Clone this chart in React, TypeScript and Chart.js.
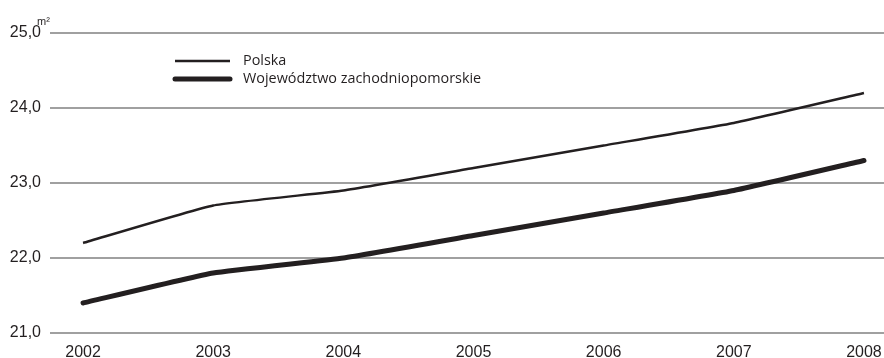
import React, { useEffect, useRef } from "react";
import { Chart, registerables } from "chart.js";

Chart.register(...registerables);

const years = [2002, 2003, 2004, 2005, 2006, 2007, 2008];
const polska = [22.2, 22.7, 22.9, 23.2, 23.5, 23.8, 24.2];
const zachodniopomorskie = [21.4, 21.8, 22.0, 22.3, 22.6, 22.9, 23.3];
const yTicks = [21, 22, 23, 24, 25];
const seriesLabels = ["Polska", "Województwo zachodniopomorskie"];
const unitLabel = "m²";

const INK = "#231f20";

const legendPlugin = {
  id: "customLegend",
  afterDraw(chart: any) {
    const ctx = chart.ctx;
    ctx.save();
    const rows = [
      { y: 61, w: 2.5, label: chart.data.datasets[0].label },
      { y: 79, w: 5, label: chart.data.datasets[1].label },
    ];
    rows.forEach((r) => {
      ctx.strokeStyle = INK;
      ctx.lineWidth = r.w;
      ctx.lineCap = r.w > 3 ? "round" : "butt";
      ctx.beginPath();
      ctx.moveTo(175, r.y);
      ctx.lineTo(230, r.y);
      ctx.stroke();
      ctx.fillStyle = INK;
      ctx.font = "14.4px 'Open Sans'";
      ctx.textBaseline = "middle";
      ctx.textAlign = "left";
      ctx.fillText(r.label, 243, r.y);
    });
    ctx.font = "11px 'Liberation Sans'";
    ctx.textBaseline = "alphabetic";
    ctx.fillStyle = INK;
    ctx.fillText(unitLabel, 37, 25);
    ctx.restore();
  },
};

export default function App() {
  const ref = useRef<HTMLCanvasElement>(null);
  useEffect(() => {
    document.body.style.margin = "0";
    const chart = new Chart(ref.current!, {
      type: "line",
      data: {
        datasets: [
          {
            label: seriesLabels[0],
            data: years.map((y, i) => ({ x: y, y: polska[i] })),
            borderColor: INK,
            borderWidth: 2.5,
            pointRadius: 0,
            tension: 0.12,
          },
          {
            label: seriesLabels[1],
            data: years.map((y, i) => ({ x: y, y: zachodniopomorskie[i] })),
            borderColor: INK,
            borderWidth: 5,
            pointRadius: 0,
            tension: 0.12,
            borderCapStyle: "round",
          },
        ],
      },
      options: {
        animation: false,
        responsive: false,
        layout: { padding: { top: 33, left: 0, right: 0, bottom: 0 } },
        plugins: { legend: { display: false }, tooltip: { enabled: false }, title: { display: false } },
        scales: {
          x: {
            type: "linear",
            min: 2001.746,
            max: 2008.154,
            afterBuildTicks: (s: any) => {
              s.ticks = years.map((v) => ({ value: v }));
            },
            afterFit: (s: any) => {
              s.height = 25;
            },
            grid: { display: false },
            border: { display: false },
            ticks: {
              callback: (v: any) => String(v),
              color: INK,
              font: { family: "'Liberation Sans'", size: 16 },
              padding: 2,
              maxRotation: 0,
              autoSkip: false,
            },
          },
          y: {
            min: 21,
            max: 25,
            afterBuildTicks: (s: any) => {
              s.ticks = yTicks.map((v) => ({ value: v }));
            },
            afterFit: (s: any) => {
              s.width = 50;
            },
            grid: { color: "#a0a0a0", lineWidth: 2, drawTicks: false },
            border: { display: false },
            ticks: {
              callback: (v: any) => Number(v).toFixed(1).replace(".", ","),
              color: INK,
              font: { family: "'Liberation Sans'", size: 16 },
              padding: 9,
            },
          },
        },
      },
      plugins: [legendPlugin],
    } as any);
    return () => chart.destroy();
  }, []);
  return (
    <div style={{ position: "absolute", left: 0, top: 0, width: 884, height: 358 }}>
      <canvas ref={ref} width={884} height={358} style={{ display: "block" }} />
    </div>
  );
}
